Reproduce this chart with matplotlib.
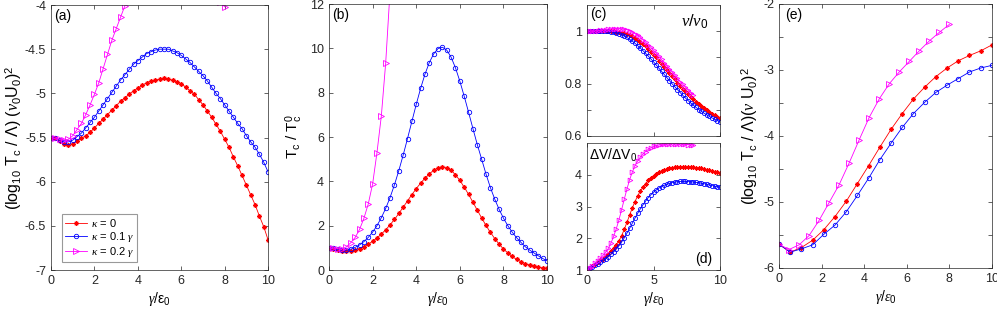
import numpy as np
import matplotlib
matplotlib.use("Agg")
import matplotlib.pyplot as plt
from matplotlib.ticker import FormatStrFormatter, MultipleLocator

plt.rcParams['font.family'] = ['Liberation Sans', 'DejaVu Sans']
plt.rcParams['mathtext.fontset'] = 'custom'
plt.rcParams['mathtext.rm'] = 'Liberation Sans'
plt.rcParams['mathtext.it'] = 'Liberation Serif:italic'
plt.rcParams['mathtext.sf'] = 'Liberation Sans'
plt.rcParams['axes.unicode_minus'] = False

# grids (gamma / epsilon_0)
g51 = np.round(np.arange(0, 10.01, 0.2), 1)      # kappa = 0, 0.1 gamma
g41 = np.round(np.arange(0, 8.01, 0.2), 1)       # kappa = 0.2 gamma
g_e = np.linspace(0, 10, 20)
g_e_pink = np.linspace(0, 8, 18)

# (a) log10 Tc
a_red = [-5.50, -5.51, -5.54, -5.57, -5.58, -5.57, -5.54, -5.51, -5.48, -5.44,
         -5.39, -5.34, -5.29, -5.24, -5.19, -5.14, -5.09, -5.05, -5.01, -4.97,
         -4.94, -4.91, -4.88, -4.86, -4.85, -4.84, -4.83, -4.84, -4.85, -4.87,
         -4.89, -4.93, -4.97, -5.01, -5.07, -5.13, -5.20, -5.27, -5.35, -5.43,
         -5.52, -5.61, -5.72, -5.82, -5.93, -6.04, -6.15, -6.26, -6.39, -6.51,
         -6.66]
a_blue = [-5.50, -5.51, -5.53, -5.55, -5.55, -5.53, -5.49, -5.45, -5.39, -5.33,
          -5.27, -5.20, -5.13, -5.06, -4.99, -4.92, -4.85, -4.79, -4.73, -4.67,
          -4.63, -4.59, -4.55, -4.53, -4.51, -4.50, -4.50, -4.50, -4.52, -4.54,
          -4.57, -4.61, -4.65, -4.70, -4.75, -4.80, -4.86, -4.93, -5.00, -5.06,
          -5.13, -5.20, -5.27, -5.34, -5.40, -5.48, -5.55, -5.61, -5.69, -5.78,
          -5.89]
a_pink = [-5.50, -5.51, -5.52, -5.53, -5.52, -5.48, -5.41, -5.34, -5.24, -5.13,
          -5.01, -4.88, -4.72, -4.56, -4.40, -4.27, -4.14, -4.01, -3.89, -3.78,
          -3.68, -3.59, -3.51, -3.44, -3.38, -3.34, -3.31, -3.30, -3.30, -3.32,
          -3.35, -3.39, -3.44, -3.50, -3.57, -3.64, -3.72, -3.80, -3.88, -3.97,
          -4.02]

# (b) Tc / Tc0
b_red = [1.00, 0.97, 0.91, 0.85, 0.84, 0.86, 0.91, 0.97, 1.05, 1.16,
         1.30, 1.45, 1.62, 1.82, 2.04, 2.28, 2.55, 2.83, 3.12, 3.40,
         3.67, 3.92, 4.14, 4.34, 4.50, 4.61, 4.66, 4.62, 4.50, 4.30,
         4.04, 3.74, 3.41, 3.06, 2.70, 2.35, 2.01, 1.70, 1.42, 1.17,
         0.95, 0.77, 0.61, 0.48, 0.375, 0.29, 0.225, 0.172, 0.13, 0.098,
         0.072]
b_blue = [1.00, 0.98, 0.93, 0.89, 0.89, 0.94, 1.02, 1.13, 1.28, 1.47,
          1.71, 2.00, 2.36, 2.78, 3.27, 3.84, 4.48, 5.18, 5.93, 6.70,
          7.47, 8.19, 8.83, 9.36, 9.75, 9.99, 10.05, 9.92, 9.60, 9.12,
          8.52, 7.84, 7.12, 6.38, 5.66, 5.00, 4.33, 3.72, 3.20, 2.74,
          2.34, 2.00, 1.71, 1.46, 1.25, 1.05, 0.90, 0.77, 0.64, 0.52,
          0.41]
b_pink = [1.00, 0.98, 0.95, 0.95, 1.05, 1.23, 1.47, 1.83, 2.33, 2.98,
          3.88, 5.30, 6.95, 9.35, 12.6, 17.0, 23.0, 31.0, 41.0, 52.0,
          66.0, 81.0, 98.0, 115.0, 132.0, 145.0, 155.0, 158.0, 158.0, 151.0,
          141.0, 129.0, 115.0, 100.0, 85.0, 72.0, 60.0, 50.0, 42.0, 34.0,
          30.0]

# (c) nu / nu0
c_red = [1.000, 1.000, 1.000, 1.000, 1.000, 1.000, 1.000, 1.000, 0.999, 0.999,
         0.999, 0.998, 0.997, 0.995, 0.993, 0.990, 0.986, 0.981, 0.975, 0.968,
         0.960, 0.951, 0.942, 0.932, 0.922, 0.911, 0.900, 0.888, 0.876, 0.864,
         0.852, 0.840, 0.828, 0.816, 0.804, 0.792, 0.781, 0.770, 0.760, 0.750,
         0.740, 0.731, 0.722, 0.714, 0.706, 0.699, 0.692, 0.685, 0.679, 0.673,
         0.667]
c_blue = [1.000, 1.000, 1.000, 1.000, 1.000, 1.000, 1.000, 1.000, 0.999, 0.998,
          0.996, 0.994, 0.991, 0.987, 0.982, 0.976, 0.969, 0.962, 0.954, 0.945,
          0.936, 0.926, 0.916, 0.905, 0.894, 0.883, 0.871, 0.859, 0.847, 0.835,
          0.823, 0.811, 0.799, 0.788, 0.777, 0.766, 0.755, 0.745, 0.735, 0.726,
          0.717, 0.709, 0.701, 0.694, 0.687, 0.681, 0.675, 0.669, 0.664, 0.659,
          0.655]
c_pink = [1.000, 1.000, 1.000, 1.001, 1.002, 1.003, 1.005, 1.006, 1.008, 1.009,
          1.010, 1.010, 1.010, 1.009, 1.008, 1.006, 1.002, 0.997, 0.991, 0.984,
          0.976, 0.967, 0.958, 0.948, 0.938, 0.927, 0.916, 0.904, 0.892, 0.880,
          0.868, 0.856, 0.844, 0.832, 0.820, 0.808, 0.797, 0.786, 0.776, 0.766,
          0.757]

# (d) dV / dV0
d_red = [1.00, 1.06, 1.12, 1.18, 1.24, 1.30, 1.36, 1.43, 1.51, 1.60,
         1.70, 1.80, 1.92, 2.08, 2.28, 2.50, 2.73, 2.95, 3.15, 3.33,
         3.48, 3.61, 3.72, 3.82, 3.90, 3.97, 4.03, 4.08, 4.12, 4.15,
         4.18, 4.20, 4.22, 4.23, 4.24, 4.245, 4.25, 4.25, 4.245, 4.24,
         4.23, 4.22, 4.21, 4.20, 4.18, 4.16, 4.14, 4.12, 4.10, 4.08,
         4.07]
d_blue = [1.00, 1.05, 1.10, 1.15, 1.20, 1.25, 1.30, 1.36, 1.42, 1.49,
          1.57, 1.66, 1.76, 1.88, 2.01, 2.16, 2.31, 2.47, 2.63, 2.78,
          2.92, 3.05, 3.17, 3.28, 3.37, 3.45, 3.52, 3.58, 3.63, 3.67,
          3.70, 3.73, 3.75, 3.77, 3.78, 3.79, 3.79, 3.79, 3.785, 3.78,
          3.77, 3.76, 3.75, 3.73, 3.72, 3.70, 3.68, 3.66, 3.64, 3.62,
          3.61]
d_pink = [1.00, 1.07, 1.14, 1.21, 1.29, 1.37, 1.46, 1.56, 1.68, 1.85,
          2.06, 2.30, 2.58, 2.90, 3.23, 3.55, 3.84, 4.08, 4.28, 4.43,
          4.55, 4.65, 4.73, 4.80, 4.85, 4.89, 4.92, 4.94, 4.955, 4.965,
          4.97, 4.975, 4.975, 4.975, 4.97, 4.965, 4.96, 4.955, 4.95, 4.945,
          4.94]

# (e) log10 Tc with nu(gamma)
e_red = [-5.64, -5.76, -5.69, -5.58, -5.42, -5.22, -4.99, -4.72, -4.45, -4.17,
         -3.90, -3.66, -3.44, -3.26, -3.10, -2.97, -2.86, -2.78, -2.71, -2.62]
e_blue = [-5.64, -5.76, -5.71, -5.65, -5.49, -5.35, -5.15, -4.90, -4.64, -4.36,
          -4.11, -3.87, -3.66, -3.49, -3.34, -3.23, -3.13, -3.03, -2.97, -2.93]
e_pink = [-5.64, -5.72, -5.65, -5.51, -5.28, -5.01, -4.74, -4.41, -4.06, -3.72,
          -3.44, -3.21, -3.03, -2.87, -2.71, -2.56, -2.43, -2.31]

labels = [r'$\kappa$ = 0', r'$\kappa$ = 0.1 $\gamma$', r'$\kappa$ = 0.2 $\gamma$']

RED, BLUE, PINK = '#ff0000', '#0000ff', '#ff00ff'
AXC = '#262626'
LW = 0.6
STAR = (8, 2, 0)   # matlab-like asterisk


def plot_three(ax, xs, ys, ms=(3.4, 3.2, 3.8)):
    ax.plot(xs[0], ys[0], '-', marker=STAR, color=RED, lw=LW, ms=ms[0], mew=0.7, label=labels[0])
    ax.plot(xs[1], ys[1], '-o', color=BLUE, lw=LW, ms=ms[1], mew=0.6, mfc='none', label=labels[1])
    ax.plot(xs[2], ys[2], '->', color=PINK, lw=LW, ms=ms[2], mew=0.6, mfc='none', label=labels[2])


def style(ax):
    ax.tick_params(direction='in', top=True, right=True, length=3, width=0.5,
                   labelsize=9, colors=AXC, which='both')
    for s in ax.spines.values():
        s.set_linewidth(0.5)
        s.set_color(AXC)


fig = plt.figure(figsize=(9.97, 3.09), dpi=100)

# (a)
ax = fig.add_axes([0.0512, 0.1262, 0.2177, 0.8576])
plot_three(ax, [g51, g51, g41], [a_red, a_blue, a_pink])
ax.set_xlim(0, 10)
ax.set_ylim(-7, -4)
ax.set_xticks([0, 2, 4, 6, 8, 10])
ax.set_yticks(np.arange(-7, -3.99, 0.5))
ax.yaxis.set_major_formatter(FormatStrFormatter('%g'))
ax.set_ylabel(r'(log$_{10}$ T$_\mathrm{c}$ / Λ) ($\nu_0$U$_0$)$^2$', fontsize=11.5, labelpad=1)
ax.set_xlabel(r'$\gamma$/ε$_0$', fontsize=10, labelpad=2)
ax.text(0.015, 0.985, '(a)', transform=ax.transAxes, ha='left', va='top', fontsize=10)
leg = ax.legend(loc='lower left', bbox_to_anchor=(0.05, 0.03), borderaxespad=0,
                fontsize=8, frameon=True, fancybox=False, edgecolor='#808080',
                handlelength=2.0, labelspacing=0.1, borderpad=0.25, handletextpad=0.4)
leg.get_frame().set_linewidth(0.8)
style(ax)

# (b)
ax = fig.add_axes([0.3300, 0.1262, 0.2187, 0.8608])
plot_three(ax, [g51, g51, g41], [b_red, b_blue, b_pink])
ax.set_xlim(0, 10)
ax.set_ylim(0, 12)
ax.set_xticks([0, 2, 4, 6, 8, 10])
ax.set_yticks([0, 2, 4, 6, 8, 10, 12])
ax.set_ylabel(r'T$_\mathrm{c}$ / T$_\mathrm{c}^0$', fontsize=11, labelpad=4)
ax.set_xlabel(r'$\gamma/\epsilon_0$', fontsize=10, labelpad=2)
ax.text(0.015, 0.985, '(b)', transform=ax.transAxes, ha='left', va='top', fontsize=10)
style(ax)

# (c)
ax = fig.add_axes([0.5888, 0.5599, 0.1334, 0.4239])
plot_three(ax, [g51, g51, g41], [c_red, c_blue, c_pink], ms=(3.0, 3.0, 3.4))
ax.set_xlim(0, 10)
ax.set_ylim(0.6, 1.1)
ax.set_xticks([0, 5, 10])
ax.set_xticklabels([])
ax.set_yticks([0.6, 0.7, 0.8, 0.9, 1.0])
ax.set_yticklabels(['0.6', '', '0.8', '', '1'])
ax.text(0.02, 0.985, '(c)', transform=ax.transAxes, ha='left', va='top', fontsize=10)
ax.text(0.91, 0.94, r'$\nu/\nu_0$', transform=ax.transAxes, ha='right', va='top', fontsize=12)
style(ax)

# (d)
ax = fig.add_axes([0.5888, 0.1262, 0.1334, 0.4110])
plot_three(ax, [g51, g51, g41], [d_red, d_blue, d_pink], ms=(3.0, 3.0, 3.4))
ax.set_xlim(0, 10)
ax.set_ylim(1, 5)
ax.set_xticks([0, 5, 10])
ax.set_yticks([1, 2, 3, 4])
ax.set_xlabel(r'$\gamma/\epsilon_0$', fontsize=10, labelpad=2)
ax.text(0.015, 0.97, r'ΔV/ΔV$_0$', transform=ax.transAxes, ha='left', va='top', fontsize=10)
ax.text(0.94, 0.03, '(d)', transform=ax.transAxes, ha='right', va='bottom', fontsize=10)
style(ax)

# (e)
ax = fig.add_axes([0.7813, 0.1327, 0.2136, 0.8544])
plot_three(ax, [g_e, g_e, g_e_pink], [e_red, e_blue, e_pink])
ax.set_xlim(0, 10)
ax.set_ylim(-6, -2)
ax.set_xticks([0, 2, 4, 6, 8, 10])
ax.set_yticks([-6, -5, -4, -3, -2])
ax.yaxis.set_minor_locator(MultipleLocator(0.5))
ax.yaxis.set_major_formatter(FormatStrFormatter('%g'))
ax.set_ylabel(r'(log$_{10}$ T$_\mathrm{c}$ / Λ)($\nu$ U$_0$)$^2$', fontsize=11.5, labelpad=2)
ax.set_xlabel(r'$\gamma/\epsilon_0$', fontsize=10, labelpad=2)
ax.text(0.03, 0.985, '(e)', transform=ax.transAxes, ha='left', va='top', fontsize=10)
style(ax)

fig.savefig('out.png', dpi=100)
